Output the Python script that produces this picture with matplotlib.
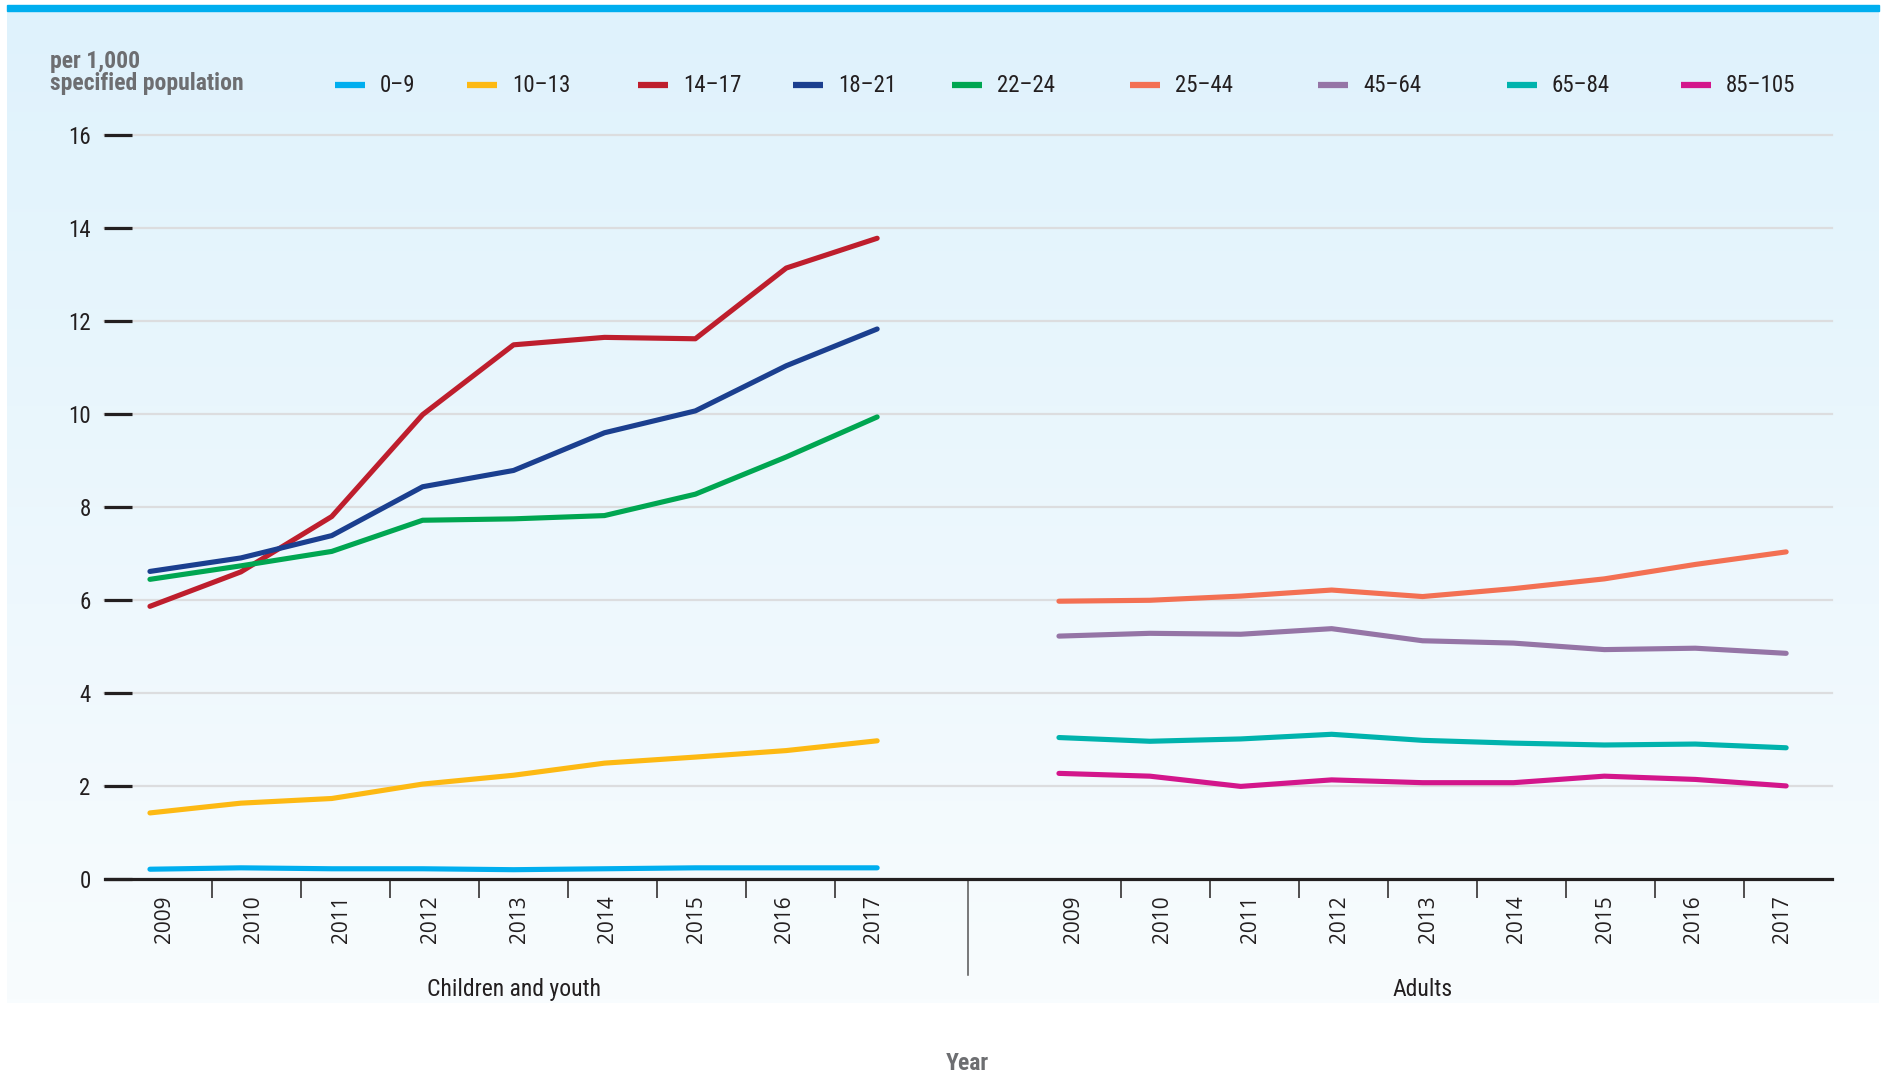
#!/usr/bin/env python3
import matplotlib

matplotlib.use("Agg")
import matplotlib.pyplot as plt
import numpy as np
from matplotlib import font_manager
from matplotlib.colors import LinearSegmentedColormap
from matplotlib.lines import Line2D
from matplotlib.patches import Rectangle

YEARS = [2009, 2010, 2011, 2012, 2013, 2014, 2015, 2016, 2017]
GROUP_LABELS = ["Children and youth", "Adults"]

CHILD_SERIES = ["0–9", "10–13", "14–17", "18–21", "22–24"]
ADULT_SERIES = ["25–44", "45–64", "65–84", "85–105"]

age_0_9 = [0.21, 0.24, 0.22, 0.22, 0.20, 0.22, 0.24, 0.24, 0.24]
age_10_13 = [1.42, 1.63, 1.73, 2.04, 2.23, 2.49, 2.62, 2.76, 2.97]
age_14_17 = [5.86, 6.60, 7.79, 9.98, 11.48, 11.64, 11.61, 13.13, 13.77]
age_18_21 = [6.61, 6.90, 7.38, 8.43, 8.78, 9.59, 10.06, 11.03, 11.82]
age_22_24 = [6.44, 6.73, 7.04, 7.71, 7.74, 7.81, 8.27, 9.07, 9.93]
age_25_44 = [5.97, 5.99, 6.08, 6.21, 6.07, 6.24, 6.45, 6.76, 7.03]
age_45_64 = [5.22, 5.28, 5.26, 5.38, 5.12, 5.07, 4.93, 4.96, 4.85]
age_65_84 = [3.04, 2.96, 3.01, 3.11, 2.98, 2.92, 2.88, 2.90, 2.82]
age_85_105 = [2.27, 2.21, 1.99, 2.13, 2.07, 2.07, 2.21, 2.14, 2.00]

SERIES_VALUES = {
    "0–9": age_0_9,
    "10–13": age_10_13,
    "14–17": age_14_17,
    "18–21": age_18_21,
    "22–24": age_22_24,
    "25–44": age_25_44,
    "45–64": age_45_64,
    "65–84": age_65_84,
    "85–105": age_85_105,
}
COLORS = {
    "0–9": "#00aeef",
    "10–13": "#fdb913",
    "14–17": "#be1e2d",
    "18–21": "#1b3f8f",
    "22–24": "#00a651",
    "25–44": "#f37053",
    "45–64": "#9575a6",
    "65–84": "#00b3ad",
    "85–105": "#d3168b",
}
Y_TICKS = [0, 2, 4, 6, 8, 10, 12, 14, 16]

INK = "#231f20"
GREY_TEXT = "#6d6e71"

names = {f.name for f in font_manager.fontManager.ttflist}


def pick(*cands):
    return next((c for c in cands if c in names), "DejaVu Sans")


NARROW = pick("Liberation Sans Narrow", "DejaVu Sans Condensed", "Roboto Condensed", "Liberation Sans")
YEARFONT = pick("Open Sans", "DejaVu Sans")
k = 1.0 if NARROW != "Liberation Sans" else 0.85

W, H = 1883, 1077
fig = plt.figure(figsize=(W / 100, H / 100), dpi=100)
fig.patch.set_facecolor("white")

# background panel with vertical gradient + top bar
bg = fig.add_axes([7 / W, 1 - 1003 / H, (1879 - 7) / W, (1003 - 11) / H], zorder=-5)
cmap = LinearSegmentedColormap.from_list("bg", ["#dff2fc", "#f8fcfe"])
bg.imshow(np.linspace(0, 1, 256).reshape(-1, 1), aspect="auto", cmap=cmap, extent=[0, 1, 0, 1])
bg.set_axis_off()
fig.patches.append(Rectangle((7 / W, 1 - 11 / H), (1879 - 7) / W, 6 / H,
                             transform=fig.transFigure, color="#00aeef", zorder=-4))

x0, x1 = 104.5, 1831.6
y0, y1 = 879, 134.5
ax = fig.add_axes([x0 / W, 1 - y0 / H, (x1 - x0) / W, (y0 - y1) / H])
ax.set_facecolor("none")

n = len(YEARS)
child_x = np.arange(n)
adult_x = np.arange(n) + n + 1

for name in CHILD_SERIES:
    ax.plot(child_x, SERIES_VALUES[name], color=COLORS[name], lw=3.7,
            solid_capstyle="round", solid_joinstyle="round", zorder=3)
for name in ADULT_SERIES:
    ax.plot(adult_x, SERIES_VALUES[name], color=COLORS[name], lw=3.7,
            solid_capstyle="round", solid_joinstyle="round", zorder=3)

ax.set_xlim(-0.5, 2 * n + 0.5)
ax.set_ylim(0, 16)

for v in Y_TICKS[1:]:
    ax.axhline(v, color="#dcdddf", lw=1.6, zorder=1, clip_on=False)

for s in ["left", "top", "right"]:
    ax.spines[s].set_visible(False)
ax.spines["bottom"].set_linewidth(2.3)
ax.spines["bottom"].set_color(INK)
ax.spines["bottom"].set_zorder(4)

ax.set_yticks(Y_TICKS)
ax.set_yticklabels([str(v) for v in Y_TICKS], fontfamily=NARROW, fontsize=16.5 * k, color=INK)
ax.tick_params(axis="y", direction="in", length=20, width=2.3, color=INK, pad=10)

# tick marks between years, year labels as minor ticks
marks = [g + 0.68 + 0.98 * i for g in (0, n + 1) for i in range(n - 1)]
label_pos = [g + 0.16 + 0.975 * i for g in (0, n + 1) for i in range(n)]
ax.set_xticks(marks)
ax.set_xticklabels([])
ax.tick_params(axis="x", which="major", direction="out", length=14, width=1.1, color=INK)
ax.set_xticks(label_pos, minor=True)
ax.set_xticklabels([str(y) for y in YEARS] * 2, minor=True, rotation=90,
                   fontfamily=YEARFONT, fontsize=15, color=INK)
ax.tick_params(axis="x", which="minor", length=0, pad=12)

# divider between groups
ax.axvline(n, ymin=-0.129, ymax=0, color="#555555", lw=1.1, clip_on=False)

for gx, label in zip([(n - 1) / 2, n + 1 + (n - 1) / 2], GROUP_LABELS):
    ax.text(gx, -0.149, label, transform=ax.get_xaxis_transform(), ha="center", va="center",
            fontfamily=NARROW, fontsize=17 * k, color=INK)

fig.text(967 / W, 1 - 1063 / H, "Year", ha="center", va="center", fontfamily=NARROW,
         fontweight="bold", fontsize=17 * k, color=GREY_TEXT)
fig.text(50 / W, 1 - 68 / H, "per 1,000", ha="left", va="baseline", fontfamily=NARROW,
         fontweight="bold", fontsize=17 * k, color=GREY_TEXT)
fig.text(50 / W, 1 - 90 / H, "specified population", ha="left", va="baseline", fontfamily=NARROW,
         fontweight="bold", fontsize=17 * k, color=GREY_TEXT)

# legend
legend_x = [335, 467, 638, 793, 952, 1130, 1318, 1507, 1681]
ly = 1 - 85 / H
for name, lx in zip(CHILD_SERIES + ADULT_SERIES, legend_x):
    fig.add_artist(Line2D([lx / W, (lx + 30) / W], [ly, ly], transform=fig.transFigure,
                          color=COLORS[name], lw=4.5, solid_capstyle="butt"))
    fig.text((lx + 45) / W, ly - 1 / H, name, ha="left", va="center", fontfamily=NARROW,
             fontsize=16.5 * k, color=INK)

fig.savefig("out.png", dpi=100)
